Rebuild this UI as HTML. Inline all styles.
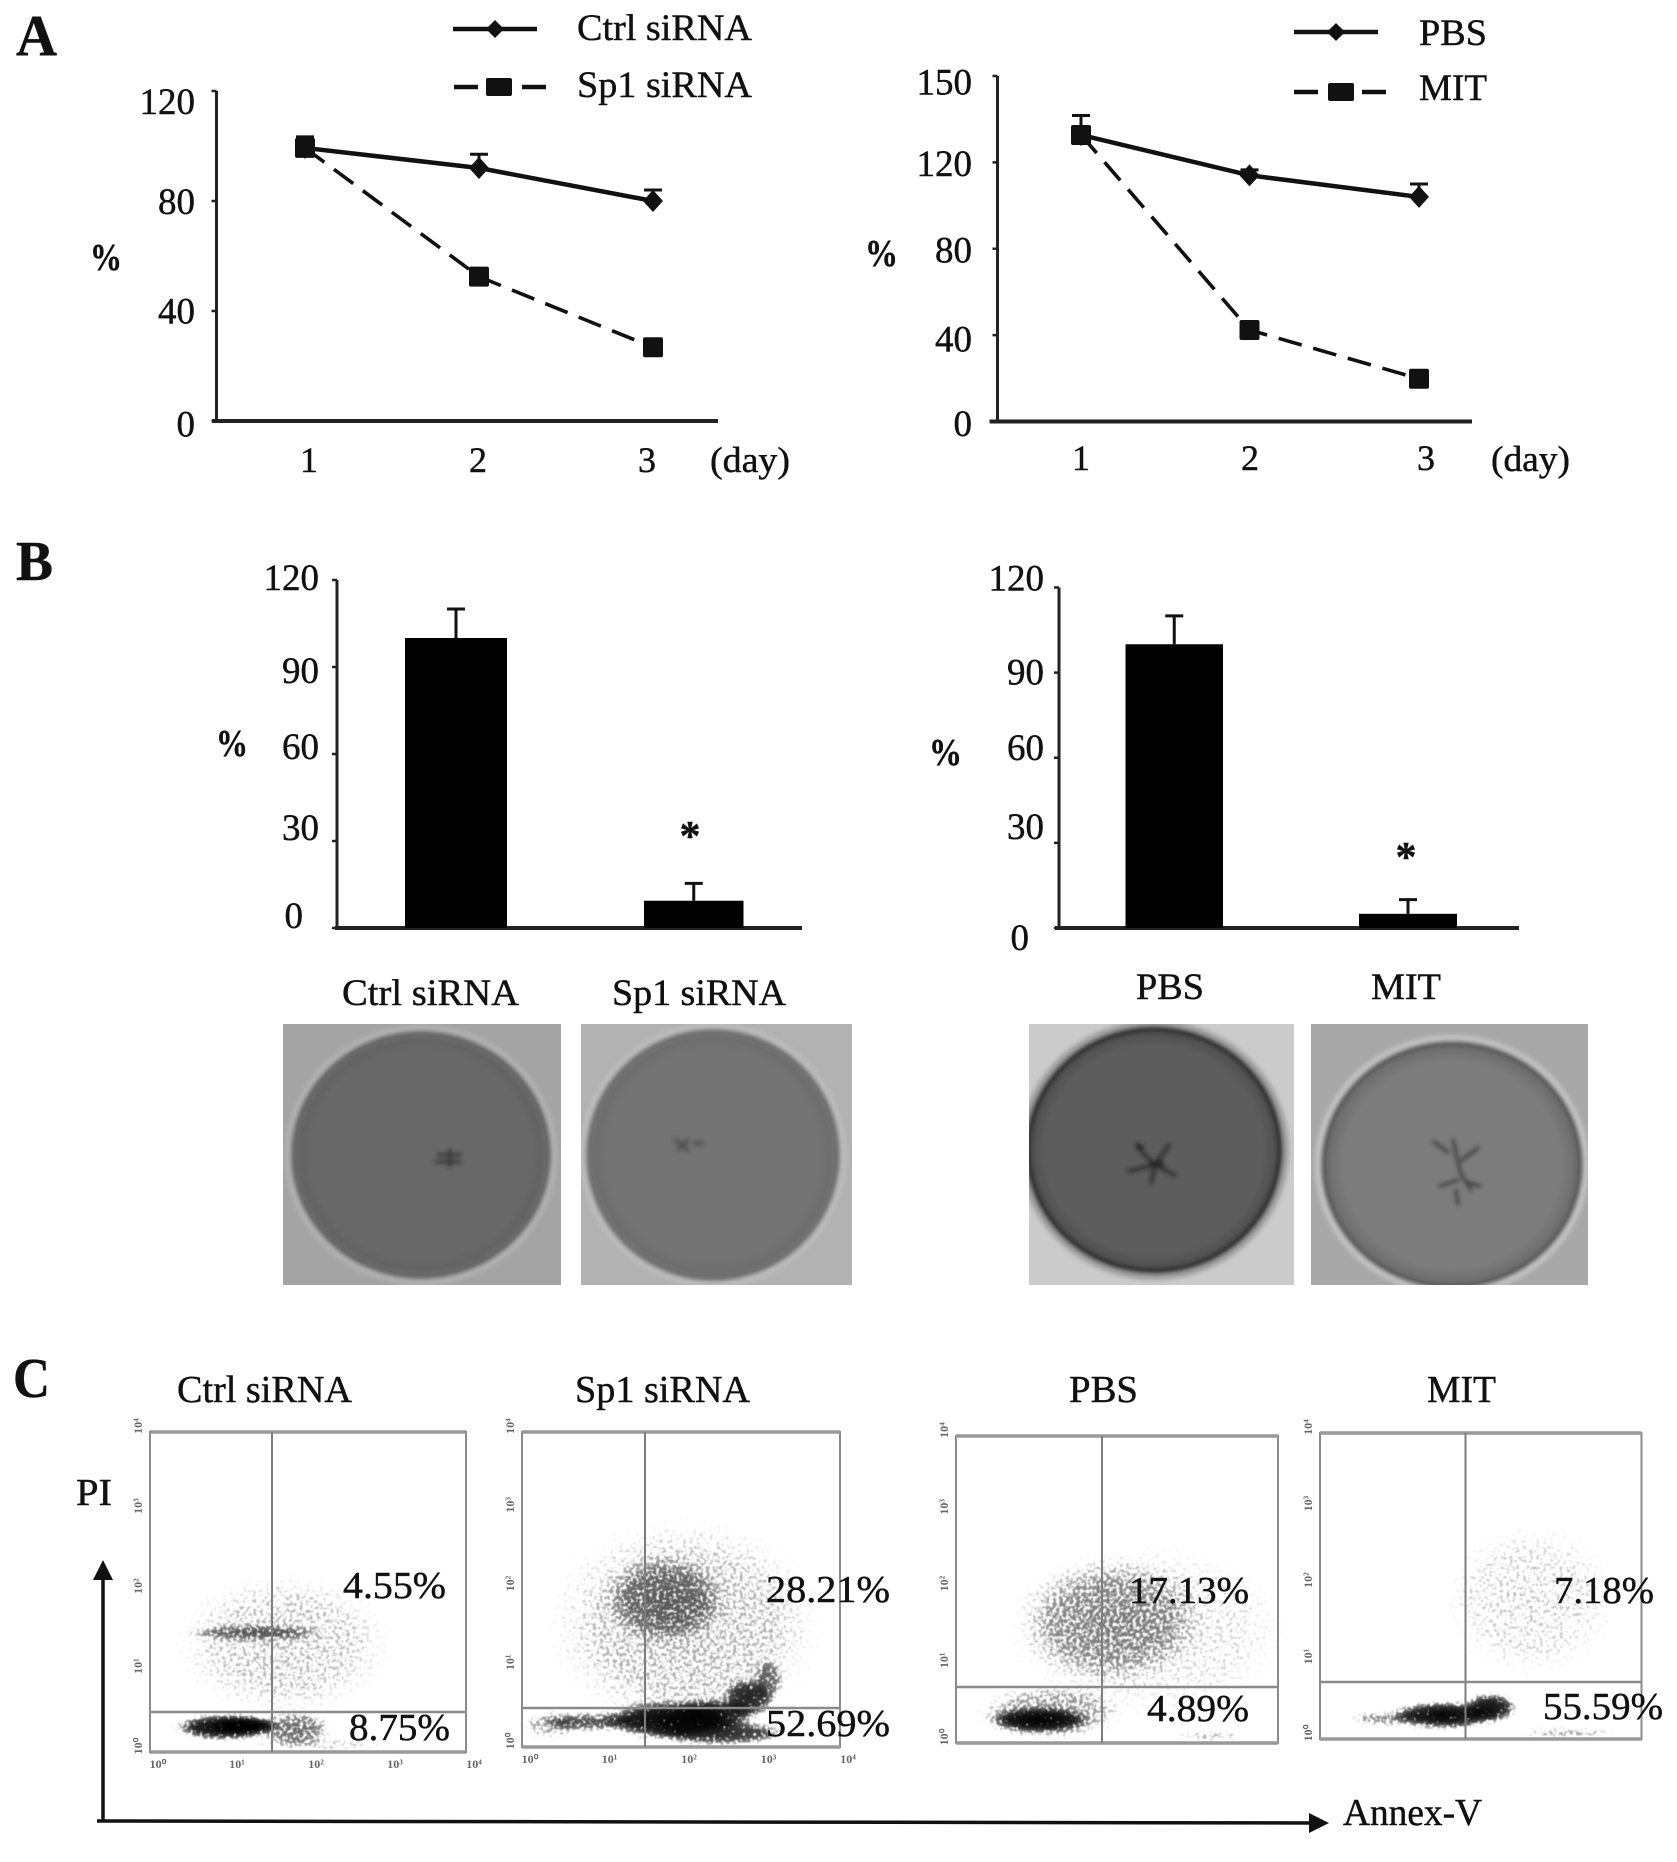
<!DOCTYPE html>
<html lang="en">
<head>
<meta charset="utf-8">
<title>Sp1 siRNA and MIT proliferation, colony and apoptosis figure</title>
<style>
html,body{margin:0;padding:0;background:#fff;}
svg{display:block;}
text{font-family:"Liberation Serif",serif;fill:#111;stroke:#111;stroke-width:.45px;}
</style>
</head>
<body>
<svg id="figure" xmlns="http://www.w3.org/2000/svg" width="1677" height="1862" viewBox="0 0 1677 1862">
  <defs>
    <radialGradient id="blob-falloff" cx="50%" cy="50%" r="50%">
      <stop offset="0%" stop-color="#000" stop-opacity="1"/>
      <stop offset="62%" stop-color="#000" stop-opacity="0.85"/>
      <stop offset="100%" stop-color="#000" stop-opacity="0"/>
    </radialGradient>
    <filter id="speckle" filterUnits="userSpaceOnUse" x="0" y="0" width="1677" height="1862" color-interpolation-filters="sRGB">
      <feGaussianBlur in="SourceGraphic" stdDeviation="2.5" result="density"/>
      <feTurbulence type="fractalNoise" baseFrequency="0.3" numOctaves="2" seed="7" result="noise"/>
      <feColorMatrix in="noise" type="matrix" values="0 0 0 0 0  0 0 0 0 0  0 0 0 0 0  0 0 0 1 0" result="mono"/>
      <feComposite in="density" in2="mono" operator="arithmetic" k1="0" k2="3" k3="5" k4="-3.3" result="dots"/>
      <feComposite in="dots" in2="density" operator="in" result="clipped"/>
      <feGaussianBlur in="clipped" stdDeviation="0.6"/>
    </filter>
    <filter id="soft" x="-50%" y="-50%" width="200%" height="200%"><feGaussianBlur stdDeviation="2.2"/></filter>
    <filter id="softer" x="-10%" y="-10%" width="120%" height="120%"><feGaussianBlur stdDeviation="2"/></filter>
  </defs>

  <text x="16" y="55" font-size="58" font-weight="bold" textLength="41" lengthAdjust="spacingAndGlyphs">A</text>
  <text x="16" y="580" font-size="56" font-weight="bold" textLength="37" lengthAdjust="spacingAndGlyphs">B</text>
  <text x="13" y="1397" font-size="56" font-weight="bold" textLength="37" lengthAdjust="spacingAndGlyphs">C</text>

  <g>
    <line x1="453" y1="29" x2="537" y2="29" stroke="#111" stroke-width="4.5"/>
    <path d="M495 20l9 9l-9 9l-9-9z" fill="#111"/>
    <text x="577" y="40" font-size="37" textLength="175" lengthAdjust="spacingAndGlyphs">Ctrl siRNA</text>
    <line x1="454" y1="87" x2="546" y2="87" stroke="#111" stroke-width="4.5" stroke-dasharray="24 10"/>
    <rect x="486" y="78" width="26" height="18" rx="2" fill="#111"/>
    <text x="577" y="97" font-size="37" textLength="175" lengthAdjust="spacingAndGlyphs">Sp1 siRNA</text>
  </g>
  <g>
    <line x1="1294" y1="32" x2="1378" y2="32" stroke="#111" stroke-width="4.5"/>
    <path d="M1336 23l9 9l-9 9l-9-9z" fill="#111"/>
    <text x="1419" y="45" font-size="37" textLength="68" lengthAdjust="spacingAndGlyphs">PBS</text>
    <line x1="1294" y1="92" x2="1388" y2="92" stroke="#111" stroke-width="4.5" stroke-dasharray="24 10"/>
    <rect x="1328" y="83" width="26" height="18" rx="2" fill="#111"/>
    <text x="1419" y="100" font-size="37" textLength="68" lengthAdjust="spacingAndGlyphs">MIT</text>
  </g>

  <text x="90" y="270" font-size="38" font-weight="bold" textLength="32" lengthAdjust="spacingAndGlyphs">%</text>
  <text x="710" y="472" font-size="36" textLength="80" lengthAdjust="spacingAndGlyphs">(day)</text>
  <text x="865" y="266" font-size="38" font-weight="bold" textLength="33" lengthAdjust="spacingAndGlyphs">%</text>
  <text x="1491" y="471" font-size="36" textLength="79" lengthAdjust="spacingAndGlyphs">(day)</text>

  <text x="216" y="756" font-size="38" font-weight="bold" textLength="32" lengthAdjust="spacingAndGlyphs">%</text>
  <text x="929" y="765" font-size="38" font-weight="bold" textLength="33" lengthAdjust="spacingAndGlyphs">%</text>
  <text x="690" y="850" font-size="42" font-weight="bold" text-anchor="middle">*</text>
  <text x="1406" y="871" font-size="42" font-weight="bold" text-anchor="middle">*</text>
  <text x="342" y="1005" font-size="37" textLength="177" lengthAdjust="spacingAndGlyphs">Ctrl siRNA</text>
  <text x="612" y="1005" font-size="37" textLength="174" lengthAdjust="spacingAndGlyphs">Sp1 siRNA</text>
  <text x="1136" y="999" font-size="37" textLength="68" lengthAdjust="spacingAndGlyphs">PBS</text>
  <text x="1371" y="999" font-size="37" textLength="70" lengthAdjust="spacingAndGlyphs">MIT</text>

  <g id="charts"></g>
  <g id="dishes"></g>
  <g id="flow"></g>

  <text x="177" y="1402" font-size="38" textLength="175" lengthAdjust="spacingAndGlyphs">Ctrl siRNA</text>
  <text x="575" y="1402" font-size="38" textLength="175" lengthAdjust="spacingAndGlyphs">Sp1 siRNA</text>
  <text x="1069" y="1402" font-size="38" textLength="69" lengthAdjust="spacingAndGlyphs">PBS</text>
  <text x="1427" y="1402" font-size="38" textLength="69" lengthAdjust="spacingAndGlyphs">MIT</text>
  <text x="76" y="1505" font-size="38" textLength="36" lengthAdjust="spacingAndGlyphs">PI</text>
  <text x="1343" y="1825" font-size="38" textLength="139" lengthAdjust="spacingAndGlyphs">Annex-V</text>
  <g>
    <line x1="103" y1="1575" x2="103" y2="1820" stroke="#111" stroke-width="3.5"/>
    <path d="M103 1560l10 20h-20z" fill="#111"/>
    <line x1="97" y1="1821" x2="1312" y2="1823" stroke="#111" stroke-width="3.5"/>
    <path d="M1329 1823l-20 10v-20z" fill="#111"/>
  </g>
  <text x="343" y="1598" font-size="38" textLength="103" lengthAdjust="spacingAndGlyphs">4.55%</text>
  <text x="349" y="1740" font-size="38" textLength="101" lengthAdjust="spacingAndGlyphs">8.75%</text>
  <text x="766" y="1602" font-size="38" textLength="124" lengthAdjust="spacingAndGlyphs">28.21%</text>
  <text x="766" y="1736" font-size="38" textLength="124" lengthAdjust="spacingAndGlyphs">52.69%</text>
  <text x="1129" y="1603" font-size="38" textLength="120" lengthAdjust="spacingAndGlyphs">17.13%</text>
  <text x="1147" y="1721" font-size="38" textLength="102" lengthAdjust="spacingAndGlyphs">4.89%</text>
  <text x="1554" y="1603" font-size="38" textLength="100" lengthAdjust="spacingAndGlyphs">7.18%</text>
  <text x="1543" y="1719" font-size="38" textLength="120" lengthAdjust="spacingAndGlyphs">55.59%</text>
</svg>

<script>
// ---- Panel A: growth curves ----
const dayLabels = ['1', '2', '3'];
const growthLeftTicks = [0, 40, 80, 120];
const growthLeftTickLabels = ['0', '40', '80', '120'];
const ctrlSirnaValues = [99.3, 92, 80];
const ctrlSirnaErrors = [4, 5, 4];
const sp1SirnaValues = [99.3, 52.5, 26.8];
const sp1SirnaErrors = [3, 2, 3];

// The printed axis runs 0, 40, 80, 120, 150 at equal spacing.
const growthRightTicks = [0, 40, 80, 120, 160];
const growthRightTickLabels = ['0', '40', '80', '120', '150'];
const pbsValues = [132.7, 114, 104];
const pbsErrors = [9, 2.5, 6];
const mitValues = [132.7, 42.4, 19.8];
const mitErrors = [3, 2, 2];

// ---- Panel B: colony bars ----
const colonyTicks = [0, 30, 60, 90, 120];
const colonyTickLabels = ['0', '30', '60', '90', '120'];
const sirnaBarValues = [100, 9.4];
const sirnaBarErrors = [10, 6];
const sirnaBarNames = ['ctrl-sirna', 'sp1-sirna'];
const mitBarValues = [100, 5];
const mitBarErrors = [10, 5];
const mitBarNames = ['pbs', 'mit'];

// ---- Panel C: flow cytometry populations, in log decades ----
// Each row: annexin centre, PI centre, annexin spread, PI spread, density 0-1
const flowCtrlPopulations = [
  [1.70, 1.34, 1.10, 0.72, 0.32],
  [1.33, 1.49, 0.70, 0.08, 0.55],
  [2.15, 0.09, 0.76, 0.06, 0.30],
  [1.84, 0.29, 0.38, 0.18, 0.60],
  [0.95, 0.31, 0.53, 0.14, 1.00],
  [1.20, 0.33, 0.35, 0.10, 1.00]
];
const flowSp1Populations = [
  [2.05, 1.55, 1.40, 1.10, 0.36],
  [1.80, 1.87, 0.60, 0.44, 0.48],
  [0.35, 0.28, 0.30, 0.15, 0.40],
  [0.86, 0.32, 0.50, 0.10, 0.70],
  [2.49, 0.18, 0.70, 0.13, 0.85],
  [2.40, 0.42, 0.45, 0.16, 0.90],
  [2.85, 0.62, 0.26, 0.20, 0.85],
  [3.10, 0.85, 0.15, 0.22, 0.55],
  [1.86, 0.34, 0.69, 0.20, 1.00]
];
const flowPbsPopulations = [
  [2.41, 1.47, 1.43, 0.91, 0.24],
  [1.91, 1.60, 0.93, 0.65, 0.40],
  [3.16, 0.09, 0.37, 0.04, 0.45],
  [1.17, 0.40, 0.75, 0.29, 0.45],
  [1.04, 0.30, 0.52, 0.14, 1.00]
];
const flowMitPopulations = [
  [2.63, 1.82, 0.87, 0.80, 0.26],
  [0.81, 0.27, 0.37, 0.08, 0.50],
  [3.07, 0.08, 0.50, 0.04, 0.50],
  [1.55, 0.31, 0.56, 0.15, 1.00],
  [2.12, 0.41, 0.27, 0.16, 0.95]
];
const flowDecadeLabels = ['10⁰', '10¹', '10²', '10³', '10⁴'];

const SVGNS = 'http://www.w3.org/2000/svg';
function mk(parent, tag, attrs) {
  const el = document.createElementNS(SVGNS, tag);
  for (const k in attrs) el.setAttribute(k, attrs[k]);
  parent.appendChild(el);
  return el;
}
function linear(d0, d1, r0, r1) {
  return v => r0 + (v - d0) * (r1 - r0) / (d1 - d0);
}

function drawAxes(group, id, box, ticks, tickLabels, yScale, nudges, zeroDx, labelRight) {
  const yLine = mk(group, 'line', {x1: box.x, y1: box.top, x2: box.x, y2: box.base + 1, stroke: '#222', 'stroke-width': 3});
  
  
  const xLine = mk(group, 'line', {x1: box.xStart, y1: box.base, x2: box.xEnd, y2: box.base, stroke: '#222', 'stroke-width': 4});
  
  
  ticks.forEach((t, i) => {
    const y = yScale(t);
    const mark = mk(group, 'line', {x1: box.x - 5, y1: y, x2: box.x, y2: y, stroke: '#222', 'stroke-width': 2.5});
    
    
    const label = mk(group, 'text', {
      x: labelRight + (i === 0 ? zeroDx : 0),
      y: y + nudges[i] + 11,
      'font-size': 37,
      'text-anchor': 'end'
    });
    label.textContent = tickLabels[i];
    
    
  });
}

function drawSeries(group, name, values, errors, xPos, yScale, dashed, square) {
  const pts = values.map((v, i) => xPos[i] + ',' + yScale(v)).join(' ');
  const line = mk(group, 'polyline', {points: pts, fill: 'none', stroke: '#111', 'stroke-width': dashed ? 3.6 : 4.5});
  if (dashed) line.setAttribute('stroke-dasharray', '24 12');
  
  
  values.forEach((v, i) => {
    const x = xPos[i], y = yScale(v), e = yScale(v + errors[i]);
    const err = mk(group, 'path', {d: 'M' + x + ' ' + y + 'V' + e + 'M' + (x - 9) + ' ' + e + 'H' + (x + 9), stroke: '#111', 'stroke-width': 3, fill: 'none'});
    
    
    const marker = square
      ? mk(group, 'rect', {x: x - 10, y: y - 10, width: 20, height: 20, rx: 2, fill: '#111'})
      : mk(group, 'path', {d: 'M' + x + ' ' + (y - 11) + 'l10 11l-10 11l-10-11z', fill: '#111'});
    
    
  });
}

function drawLineChart(id, box, ticks, tickLabels, nudges, labelRight, catX, catY, seriesList, ptX) {
  const g = mk(document.getElementById('charts'), 'g', {});
  
  
  const y = linear(ticks[0], ticks[ticks.length - 1], box.base, box.top);
  drawAxes(g, id, box, ticks, tickLabels, y, nudges, 0, labelRight);
  dayLabels.forEach((d, i) => {
    const t = mk(g, 'text', {x: catX[i], y: catY, 'font-size': 36, 'text-anchor': 'middle'});
    t.textContent = d;
    
    
  });
  seriesList.forEach(s => drawSeries(g, s.name, s.values, s.errors, ptX, y, s.dashed, s.square));
}

function drawBarChart(id, box, names, values, errors, bars, nudges, labelRight, zeroDx) {
  const g = mk(document.getElementById('charts'), 'g', {});
  
  
  const y = linear(0, 120, box.base, box.top);
  drawAxes(g, id, box, colonyTicks, colonyTickLabels, y, nudges, zeroDx, labelRight);
  values.forEach((v, i) => {
    const b = bars[i], mid = (b[0] + b[1]) / 2, top = y(v), e = y(v + errors[i]);
    const err = mk(g, 'path', {d: 'M' + mid + ' ' + top + 'V' + e + 'M' + (mid - 9) + ' ' + e + 'H' + (mid + 9), stroke: '#111', 'stroke-width': 3, fill: 'none'});
    
    
    const bar = mk(g, 'rect', {x: b[0], y: top, width: b[1] - b[0], height: box.base - top, fill: '#000'});
    
    
  });
}

drawLineChart('growth-chart-sirna',
  {x: 216.5, top: 91, base: 421, xStart: 212, xEnd: 718},
  growthLeftTicks, growthLeftTickLabels, [4.6, 1.4, 1.8, 11.8], 195,
  [309, 478, 647], 472,
  [
    {name: 'ctrl-sirna', values: ctrlSirnaValues, errors: ctrlSirnaErrors, dashed: false, square: false},
    {name: 'sp1-sirna', values: sp1SirnaValues, errors: sp1SirnaErrors, dashed: true, square: true}
  ],
  [305, 479, 653]);

drawLineChart('growth-chart-mit',
  {x: 997.5, top: 76, base: 421.5, xStart: 989.5, xEnd: 1472},
  growthRightTicks, growthRightTickLabels, [3.6, 5.2, 2.6, 2.4, 7.4], 972,
  [1081, 1250, 1426], 470,
  [
    {name: 'pbs', values: pbsValues, errors: pbsErrors, dashed: false, square: false},
    {name: 'mit', values: mitValues, errors: mitErrors, dashed: true, square: true}
  ],
  [1081, 1249.5, 1419]);

drawBarChart('colony-chart-sirna',
  {x: 337, top: 580, base: 928, xStart: 335, xEnd: 802},
  sirnaBarNames, sirnaBarValues, sirnaBarErrors,
  [[405, 507], [644, 743.5]], [-11, -12, -6, 5, -1], 319, -16);

drawBarChart('colony-chart-mit',
  {x: 1059, top: 587.5, base: 928, xStart: 1055, xEnd: 1519},
  mitBarNames, mitBarValues, mitBarErrors,
  [[1125.5, 1223], [1359, 1457]], [11, -15, -9, 1, -8], 1044, -15);

// ---- Petri dish photographs approximated with gradients ----
function drawDish(name, d) {
  const root = document.getElementById('dishes');
  const g = mk(root, 'g', {});
  
  
  const defs = mk(g, 'defs', {});
  const clip = mk(defs, 'clipPath', {id: name + '-clip'});
  mk(clip, 'rect', {x: d.x, y: d.y, width: d.w, height: d.h});
  const grad = mk(defs, 'radialGradient', {id: name + '-fill', cx: '50%', cy: '50%', r: '55%'});
  mk(grad, 'stop', {offset: '0%', 'stop-color': d.inner});
  mk(grad, 'stop', {offset: '80%', 'stop-color': d.inner});
  mk(grad, 'stop', {offset: '100%', 'stop-color': d.edge});
  const body = mk(g, 'g', {'clip-path': 'url(#' + name + '-clip)'});
  mk(body, 'rect', {x: d.x, y: d.y, width: d.w, height: d.h, fill: d.bg});
  const blurred = mk(body, 'g', {filter: 'url(#softer)'});
  mk(blurred, 'ellipse', {cx: d.cx, cy: d.cy, rx: d.rx + 10, ry: d.ry + 10, fill: d.halo});
  mk(blurred, 'ellipse', {cx: d.cx, cy: d.cy, rx: d.rx + 4, ry: d.ry + 4, fill: d.rim});
  mk(blurred, 'ellipse', {cx: d.cx, cy: d.cy, rx: d.rx - 1, ry: d.ry - 1, fill: 'url(#' + name + '-fill)', stroke: d.ring, 'stroke-width': 2});
  const mark = mk(body, 'g', {filter: 'url(#soft)', stroke: d.mark, 'stroke-width': d.markWidth, fill: 'none', 'stroke-linecap': 'round', opacity: 0.85});
  d.marks.forEach(s => mk(mark, 'path', {d: s}));
}
drawDish('colony-dish-ctrl', {x: 283, y: 1024, w: 278, h: 261, cx: 421, cy: 1155, rx: 126, ry: 120,
  bg: '#a4a4a4', halo: '#b2b2b2', rim: '#5a5a5a', ring: '#767676', inner: '#686868', edge: '#5a5a5a', mark: '#2a2a2a', markWidth: 3,
  marks: ['M438 1155h22', 'M436 1162h24', 'M450 1150v16']});
drawDish('colony-dish-sp1', {x: 581, y: 1024, w: 271, h: 261, cx: 713, cy: 1155, rx: 123, ry: 122,
  bg: '#b2b2b2', halo: '#bdbdbd', rim: '#666666', ring: '#7a7a7a', inner: '#737373', edge: '#656565', mark: '#404040', markWidth: 3,
  marks: ['M676 1140l12 10', 'M688 1140l-10 10', 'M694 1143h8']});
drawDish('colony-dish-pbs', {x: 1029, y: 1024, w: 265, h: 261, cx: 1154, cy: 1150, rx: 125, ry: 120,
  bg: '#cbcbcb', halo: '#a0a0a0', rim: '#242424', ring: '#3a3a3a', inner: '#5d5d5d', edge: '#404040', mark: '#1c1c1c', markWidth: 3,
  marks: ['M1150 1162h12', 'M1152 1165h10', 'M1155 1165l-18-18', 'M1155 1165l14-20', 'M1155 1165l-26 6', 'M1155 1165l20 10', 'M1155 1165l-4 18', 'M1143 1148l-6-4']});
drawDish('colony-dish-mit', {x: 1311, y: 1024, w: 277, h: 261, cx: 1452, cy: 1165, rx: 127, ry: 120,
  bg: '#a8a8a8', halo: '#c4c4c4', rim: '#4e4e4e', ring: '#6a6a6a', inner: '#7b7b7b', edge: '#5e5e5e', mark: '#303030', markWidth: 3,
  marks: ['M1453 1140l8 34', 'M1461 1174l10 16', 'M1448 1152l-14-10', 'M1462 1160l16-12', 'M1458 1180l-18 6', 'M1466 1182l14 4', 'M1456 1190l2 14']});

// ---- Flow cytometry quadrant plots ----
function drawFlow(name, box, populations, showXLabels, showYLabels) {
  const root = document.getElementById('flow');
  const g = mk(root, 'g', {});
  
  
  const sx = linear(0, 4, box.x0, box.x1);
  const sy = linear(0, 4, box.y1, box.y0);
  const dots = mk(g, 'g', {filter: 'url(#speckle)'});
  
  
  populations.forEach(p => {
    const blob = mk(dots, 'ellipse', {
      cx: sx(p[0]), cy: sy(p[1]),
      rx: (sx(p[2]) - sx(0)) * 1.3, ry: (sy(0) - sy(p[3])) * 1.3,
      fill: 'url(#blob-falloff)', 'fill-opacity': p[4]
    });
    
    
  });
  const frame = mk(g, 'rect', {x: box.x0, y: box.y0, width: box.x1 - box.x0, height: box.y1 - box.y0, fill: 'none', stroke: '#8a8a8a', 'stroke-width': 2});
  
  
  const top = mk(g, 'line', {x1: box.x0, y1: box.y0, x2: box.x1, y2: box.y0, stroke: '#999', 'stroke-width': 3.5});
  
  
  const bottom = mk(g, 'line', {x1: box.x0, y1: box.y1, x2: box.x1, y2: box.y1, stroke: '#999', 'stroke-width': 3.5});
  
  
  const gateV = mk(g, 'line', {x1: box.gateX, y1: box.y0, x2: box.gateX, y2: box.y1, stroke: '#7d7d7d', 'stroke-width': 2});
  
  
  const gateH = mk(g, 'line', {x1: box.x0, y1: box.gateY, x2: box.x1, y2: box.gateY, stroke: '#8a8a8a', 'stroke-width': 2.5});
  
  
  flowDecadeLabels.forEach((lab, i) => {
    if (showXLabels) {
      const xl = mk(g, 'text', {x: sx(i) + 8, y: box.y1 + 16, 'font-size': 12, 'text-anchor': 'middle', 'font-weight': 'bold', style: 'fill:#666;stroke:none'});
      xl.textContent = lab;
      
      
    }
    if (showYLabels) {
      const yy = sy(i) - 6;
      const yl = mk(g, 'text', {x: box.x0 - 8, y: yy, 'font-size': 12, 'text-anchor': 'middle', 'font-weight': 'bold', transform: 'rotate(-90 ' + (box.x0 - 8) + ' ' + yy + ')', style: 'fill:#666;stroke:none'});
      yl.textContent = lab;
      
      
    }
  });
}
drawFlow('flow-plot-ctrl', {x0: 150, x1: 466, y0: 1432, y1: 1752, gateX: 272, gateY: 1712}, flowCtrlPopulations, true, true);
drawFlow('flow-plot-sp1', {x0: 522, x1: 840, y0: 1432, y1: 1747, gateX: 645, gateY: 1708}, flowSp1Populations, true, true);
drawFlow('flow-plot-pbs', {x0: 956, x1: 1278, y0: 1436, y1: 1743, gateX: 1102, gateY: 1687}, flowPbsPopulations, false, true);
drawFlow('flow-plot-mit', {x0: 1320, x1: 1641.5, y0: 1433, y1: 1739, gateX: 1465.5, gateY: 1682}, flowMitPopulations, false, true);
</script>
</body>
</html>
